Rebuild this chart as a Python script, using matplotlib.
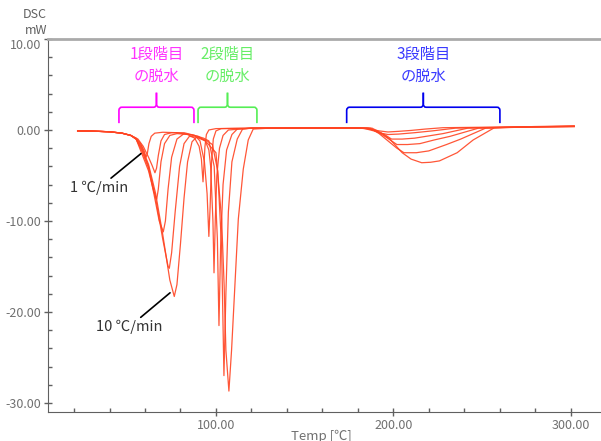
import matplotlib.pyplot as plt
from matplotlib.path import Path
from matplotlib.patches import PathPatch
from matplotlib.ticker import MultipleLocator, FormatStrFormatter

plt.rcParams['font.family'] = ['Noto Sans CJK JP', 'DejaVu Sans']

# DSC traces: temperature [C] and heat flow [mW]
t_1 = [22, 30, 40, 47, 52, 55, 57.5, 59.5, 60.6, 61.3, 62.2, 63.5, 65.5, 70, 78, 84, 88, 90.5, 91.8, 92.7, 93.2, 93.8,
       94.6, 96, 100, 120, 150, 175, 183, 188, 192, 197, 203, 210, 218, 228, 250, 280, 302]
q_1 = [-0.1, -0.12, -0.2, -0.35, -0.6, -0.9, -1.5, -2.3, -3.0, -2.6, -1.5, -0.7, -0.35, -0.25, -0.3, -0.5, -0.9, -1.8,
       -3.2, -5.7, -4.0, -1.8, -0.5, 0.0, 0.15, 0.2, 0.22, 0.22, 0.18, 0.05, -0.1, -0.22, -0.15, -0.05, 0.1, 0.25, 0.3,
       0.35, 0.38]

t_2 = [22, 30, 40, 47, 52, 56, 59, 62, 64, 65.6, 66.5, 67.5, 69, 71, 75, 82, 88, 91, 93.5, 95, 96, 96.7, 97.5, 98.5,
       100, 103, 120, 150, 180, 184, 189, 193, 197, 203, 212, 222, 235, 260, 302]
q_2 = [-0.1, -0.12, -0.2, -0.35, -0.6, -1.0, -1.8, -3.0, -3.9, -4.7, -4.2, -2.8, -1.2, -0.5, -0.3, -0.3, -0.6, -1.2,
       -3.5, -7.0, -11.7, -8.5, -3.5, -1.0, -0.1, 0.15, 0.2, 0.22, 0.22, 0.15, -0.1, -0.35, -0.5, -0.45, -0.3, -0.1,
       0.2, 0.3, 0.38]

t_3 = [22, 30, 40, 47, 52, 55, 58, 62, 65, 66.6, 67.5, 69, 71, 74, 78, 85, 90, 94, 96, 97, 98.3, 98.9, 99.6, 100.5,
       102, 104, 107, 120, 150, 180, 185, 190, 195, 199, 205, 212, 220, 228, 242, 270, 302]
q_3 = [-0.1, -0.12, -0.2, -0.35, -0.6, -1.0, -2.5, -4.5, -6.8, -7.6, -6.5, -3.5, -1.5, -0.6, -0.4, -0.5, -0.7, -1.2,
       -2.2, -4.0, -10.0, -15.7, -10.0, -5.0, -2.0, -0.6, 0.0, 0.2, 0.22, 0.22, 0.2, -0.1, -0.5, -1.0, -1.0, -0.9,
       -0.65, -0.4, 0.2, 0.32, 0.38]

t_5 = [22, 30, 40, 47, 52, 55, 58, 62, 65, 68, 70.3, 71.5, 73, 75, 78, 82, 88, 93, 96, 99, 100.8, 101.7, 102.6, 104,
       106, 109, 112, 120, 150, 180, 186, 191, 196, 202, 208, 215, 223, 232, 248, 275, 302]
q_5 = [-0.1, -0.12, -0.2, -0.35, -0.6, -1.0, -2.2, -4.2, -7.0, -10.0, -11.2, -10.0, -6.5, -3.0, -1.0, -0.4, -0.6, -0.9,
       -1.2, -4.0, -12.0, -21.5, -13.0, -6.0, -2.2, -0.5, 0.1, 0.2, 0.22, 0.22, 0.2, -0.2, -0.8, -1.6, -1.6, -1.5,
       -1.1, -0.7, 0.2, 0.33, 0.4]

t_7 = [22, 30, 40, 47, 52, 55, 58, 62, 66, 70, 73, 73.7, 75, 77, 79.5, 82, 85, 90, 95, 98, 101, 103.2, 104.5, 105.6,
       107, 109, 112, 115, 120, 150, 180, 187, 192, 197, 202, 206, 213, 220, 230, 238, 252, 280, 302]
q_7 = [-0.1, -0.12, -0.2, -0.35, -0.6, -1.0, -2.0, -4.0, -7.5, -12.0, -15.0, -15.2, -13.5, -9.0, -4.0, -1.5, -0.7,
       -0.8, -1.2, -1.6, -4.5, -13.0, -27.0, -18.0, -9.0, -3.5, -1.0, 0.1, 0.2, 0.22, 0.22, 0.2, -0.4, -1.2, -2.0, -2.5,
       -2.5, -2.3, -1.6, -1.0, 0.2, 0.35, 0.42]

t_10 = [22, 30, 40, 47, 52, 55, 58, 62, 66, 70, 74, 76.5, 78, 80, 82, 84, 86.5, 89, 94, 100, 103.2, 104.6, 105.6,
        107.3, 108.8, 110.7, 112.6, 115.4, 118.2, 121, 130, 150, 180, 188, 193, 198, 205, 210, 216, 221, 226, 236,
        245, 253, 257, 280, 302]
q_10 = [-0.1, -0.12, -0.2, -0.35, -0.6, -1.0, -1.8, -3.8, -7.0, -11.5, -16.5, -18.3, -17.0, -12.5, -7.5, -3.5, -1.3,
        -0.8, -1.2, -2.5, -9.8, -17.0, -24.2, -28.7, -24.2, -17.0, -9.8, -4.3, -1.1, 0.1, 0.2, 0.22, 0.22, 0.2, -0.3,
        -1.0, -2.5, -3.2, -3.6, -3.55, -3.4, -2.5, -1.1, -0.2, 0.25, 0.38, 0.45]

curves = [(t_1, q_1), (t_2, q_2), (t_3, q_3), (t_5, q_5), (t_7, q_7), (t_10, q_10)]

# dehydration stages (temperature range of each bracket) and their labels
stage_ranges = [(45.3, 87.6), (89.9, 123.1), (173.7, 260.1)]
stage_labels = ['1段階目\nの脱水', '2段階目\nの脱水', '3段階目\nの脱水']
stage_text_colors = ['#ff33ff', '#66ee66', '#3a3aff']
stage_brace_colors = ['#ff00ff', '#55ee55', '#0000ee']


def draw_brace(ax, x0, x1, y, color):
    xm = (x0 + x1) / 2
    rx, ry = 1.6, 0.35
    tip, spike = 1.75, 1.6
    for a, s in [(x0, 1), (x1, -1)]:
        verts = [(a, y - tip), (a, y - ry), (a, y), (a + s * rx, y),
                 (xm - s * rx, y), (xm, y), (xm, y + ry), (xm, y + spike)]
        codes = [Path.MOVETO, Path.LINETO, Path.CURVE3, Path.CURVE3,
                 Path.LINETO, Path.CURVE3, Path.CURVE3, Path.LINETO]
        ax.add_patch(PathPatch(Path(verts, codes), fill=False, edgecolor=color, lw=1.2))


fig = plt.figure(figsize=(6.01, 4.41), dpi=100)
ax = fig.add_axes([48 / 601, 29 / 441, 553 / 601, 373 / 441])

for t, q in curves:
    ax.plot(t, q, color='#ff4422', lw=0.9, alpha=0.9)

ax.set_xlim(5.3, 317.1)
ax.set_ylim(-31, 10)

ax.xaxis.set_major_locator(MultipleLocator(100))
ax.xaxis.set_minor_locator(MultipleLocator(20))
ax.yaxis.set_major_locator(MultipleLocator(10))
ax.yaxis.set_minor_locator(MultipleLocator(2))
ax.xaxis.set_major_formatter(FormatStrFormatter('%.2f'))
ax.yaxis.set_major_formatter(FormatStrFormatter('%.2f'))
ax.tick_params(which='major', direction='inout', length=6, width=1, color='#606060',
               labelcolor='#707070', labelsize=9, pad=2)
ax.tick_params(which='minor', direction='in', length=3, width=1, color='#606060')

for side in ['left', 'bottom']:
    ax.spines[side].set_color('#606060')
ax.spines['right'].set_visible(False)
ax.spines['top'].set_color('#aaaaaa')
ax.spines['top'].set_linewidth(2)

for (x0, x1), label, tc, bc in zip(stage_ranges, stage_labels, stage_text_colors, stage_brace_colors):
    draw_brace(ax, x0, x1, 2.5, bc)
    ax.text((x0 + x1) / 2, 7.1, label, ha='center', va='center', color=tc, fontsize=11, linespacing=1.35)

ax.annotate('1 ℃/min', xy=(57.7, -2.6), xytext=(34.0, -5.6), color='#333333', fontsize=10.5,
            ha='center', va='top', arrowprops=dict(arrowstyle='-', color='black', lw=1.2, shrinkA=0, shrinkB=0))
ax.annotate('10 ℃/min', xy=(74.1, -17.9), xytext=(50.9, -20.9), color='#333333', fontsize=10.5,
            ha='center', va='top', arrowprops=dict(arrowstyle='-', color='black', lw=1.2, shrinkA=0, shrinkB=0))

fig.text(47 / 601, 1 - 15 / 441, 'DSC', ha='right', va='center', color='#606060', fontsize=9)
fig.text(47 / 601, 1 - 30 / 441, 'mW', ha='right', va='center', color='#606060', fontsize=9)
fig.text(321 / 601, 1 - 436 / 441, 'Temp [℃]', ha='center', va='center', color='#707070', fontsize=9.5)

# the top tick label sits just below the frame, as in the original software
fig.canvas.draw()
for lab in ax.get_yticklabels():
    if lab.get_text() == '10.00':
        lab.set_verticalalignment('top')
        lab.set_y(10.25)

fig.savefig('out.png', dpi=100)
